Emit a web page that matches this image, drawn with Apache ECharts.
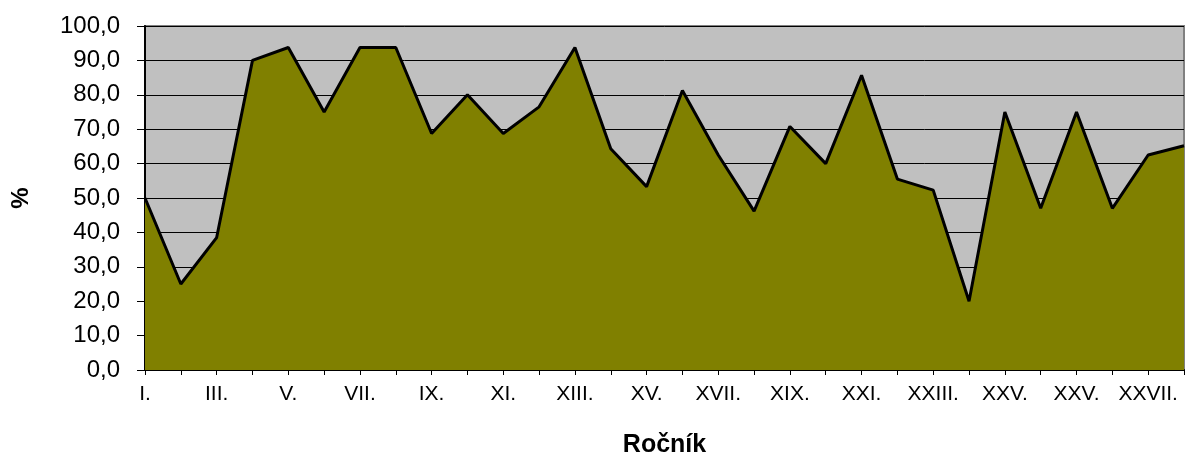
<!DOCTYPE html>
<html>
<head>
<meta charset="utf-8">
<script src="https://cdn.jsdelivr.net/npm/echarts@6/dist/echarts.min.js"></script>
<style>
html,body{margin:0;padding:0;background:#fff;}
#chart{width:1185px;height:457px;}
</style>
</head>
<body>
<div id="chart"></div>
<script>
const categories = ["I.","II.","III.","IV.","V.","VI.","VII.","VIII.","IX.","X.","XI.","XII.","XIII.","XIV.","XV.","XVI.","XVII.","XVIII.","XIX.","XX.","XXI.","XXII.","XXIII.","XXIV.","XXV.","XXVI.","XXV.","XXVI.","XXVII.","XXVIII."];
const values = [50, 25, 38.5, 90, 93.75, 75, 93.75, 93.75, 68.75, 80, 68.75, 76.5, 93.75, 64.3, 53.3, 81.25, 62.5, 46.2, 70.8, 60, 85.7, 55.5, 52.3, 20, 75, 47, 75, 47, 62.5, 65.2];
const xTitle = "Ročník";
const yTitle = "%";

const FONT = "'Liberation Sans', Arial, sans-serif";
const chart = echarts.init(document.getElementById('chart'), null, {renderer: 'canvas'});
chart.setOption({
  animation: false,
  backgroundColor: '#ffffff',
  grid: {
    left: 145, right: 1, top: 26, bottom: 87,
    show: true, backgroundColor: '#C0C0C0', borderColor: '#808080', borderWidth: 2,
    containLabel: false,
    outerBoundsMode: 'none'
  },
  xAxis: {
    type: 'category',
    data: categories,
    boundaryGap: false,
    name: xTitle,
    nameLocation: 'middle',
    nameGap: 63,
    nameTextStyle: {fontFamily: FONT, fontSize: 25, fontWeight: 'bold', color: '#000'},
    axisLine: {show: true, lineStyle: {color: '#000', width: 2}},
    axisTick: {show: true, interval: 0, length: 5, lineStyle: {color: '#000', width: 1}},
    axisLabel: {interval: 1, margin: 14, fontFamily: FONT, fontSize: 21, color: '#000'},
    splitLine: {show: false}
  },
  yAxis: {
    type: 'value',
    min: 0, max: 100, interval: 10,
    name: yTitle,
    nameLocation: 'middle',
    nameGap: 112,
    nameTextStyle: {fontFamily: FONT, fontSize: 24, fontWeight: 'bold', color: '#000'},
    axisLine: {show: true, lineStyle: {color: '#000', width: 2}},
    axisTick: {show: true, length: 8, lineStyle: {color: '#000', width: 1}},
    axisLabel: {margin: 25, fontFamily: FONT, fontSize: 24, color: '#000',
      formatter: v => v.toFixed(1).replace('.', ',')},
    splitLine: {show: true, lineStyle: {color: '#000', width: 1}}
  },
  series: [{
    type: 'line',
    data: values,
    smooth: false,
    symbol: 'none',
    lineStyle: {color: '#000', width: 3},
    areaStyle: {color: '#808000', opacity: 1},
    z: 3
  }]
});
</script>
</body>
</html>
